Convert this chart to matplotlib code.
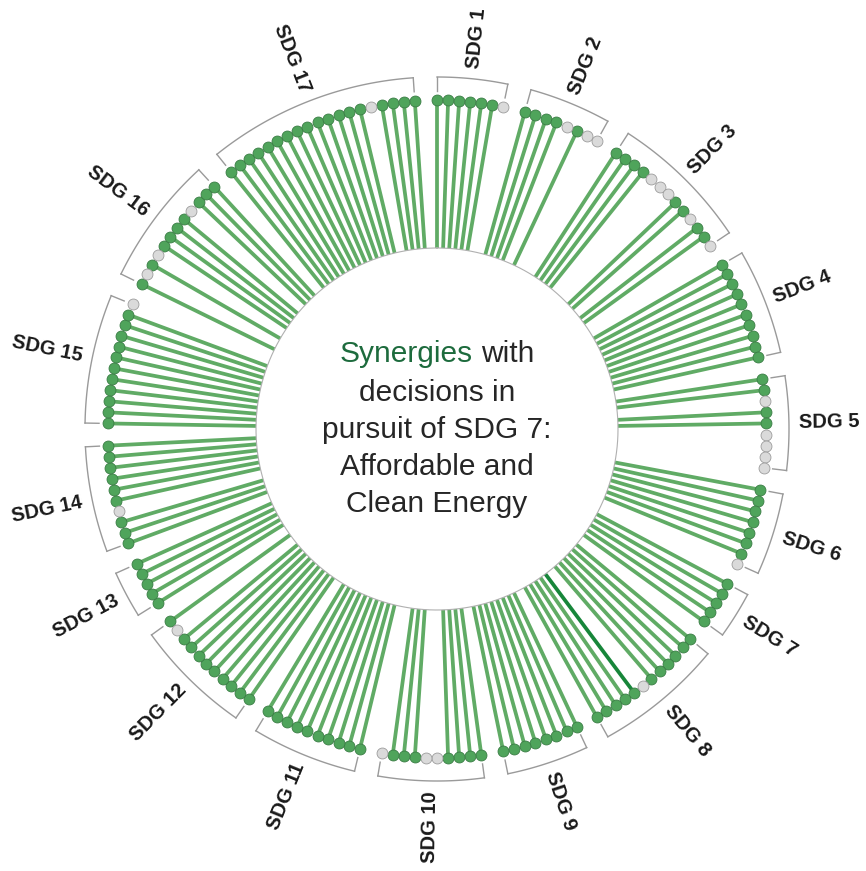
import numpy as np
import matplotlib.pyplot as plt

# SDG groups and their targets, listed clockwise from the top
sdg_labels = ["SDG %d" % i for i in range(1, 18)]

# 1 = synergy with SDG 7 decisions (green), 0 = none (grey)
sdg1 = [1, 1, 1, 1, 1, 1, 0]
sdg2 = [1, 1, 1, 1, 0, 1, 0, 0]
sdg3 = [1, 1, 1, 1, 0, 0, 0, 1, 1, 0, 1, 1, 0]
sdg4 = [1, 1, 1, 1, 1, 1, 1, 1, 1, 1]
sdg5 = [1, 1, 0, 1, 1, 0, 0, 0, 0]
sdg6 = [1, 1, 1, 1, 1, 1, 1, 0]
sdg7 = [1, 1, 1, 1, 1]
sdg8 = [1, 1, 1, 1, 1, 1, 0, 1, 1, 1, 1, 1]
sdg9 = [1, 1, 1, 1, 1, 1, 1, 1]
sdg10 = [1, 1, 1, 1, 0, 0, 1, 1, 1, 0]
sdg11 = [1, 1, 1, 1, 1, 1, 1, 1, 1, 1]
sdg12 = [1, 1, 1, 1, 1, 1, 1, 1, 1, 0, 1]
sdg13 = [1, 1, 1, 1, 1]
sdg14 = [1, 1, 1, 0, 1, 1, 1, 1, 1, 1]
sdg15 = [1, 1, 1, 1, 1, 1, 1, 1, 1, 1, 1, 0]
sdg16 = [1, 0, 1, 0, 1, 1, 1, 1, 0, 1, 1, 1]
sdg17 = [1, 1, 1, 1, 1, 1, 1, 1, 1, 1, 1, 1, 1, 1, 0, 1, 1, 1, 1]
synergy = [sdg1, sdg2, sdg3, sdg4, sdg5, sdg6, sdg7, sdg8, sdg9,
           sdg10, sdg11, sdg12, sdg13, sdg14, sdg15, sdg16, sdg17]

# one target drawn in a darker green (SDG 8, 8th target clockwise)
highlight_group = 7
highlight_target = 7

title_lines = ["decisions in", "pursuit of SDG 7:", "Affordable and", "Clean Energy"]

# styling
green_line = "#60ab65"
dark_line = "#17863a"
green_dot = "#4fa45b"
green_edge = "#3a7d45"
grey_dot = "#dadada"
grey_edge = "#9c9c9c"
bracket_col = "#9a9a9a"

r_inner = 181
r_dot = 329
r_bracket = 352
r_tick = 338
r_label = 362

n_slots = sum(len(g) for g in synergy) + len(synergy)
step = 2 * np.pi / n_slots

W, H = 866, 871
cx, cy, R = 437, 442, 460
fig = plt.figure(figsize=(W / 100, H / 100), dpi=100)
ax = fig.add_axes([(cx - R) / W, (cy - R) / H, 2 * R / W, 2 * R / H], projection="polar")
ax.set_theta_zero_location("N")
ax.set_theta_direction(-1)
ax.set_ylim(0, R)
ax.axis("off")

slot = 0
for gi, (label, flags) in enumerate(zip(sdg_labels, synergy)):
    flags = np.array(flags)
    theta = (slot + np.arange(len(flags))) * step

    # lollipop sticks for synergies
    for ti, (th, f) in enumerate(zip(theta, flags)):
        if f:
            col = dark_line if (gi == highlight_group and ti == highlight_target) else green_line
            ax.plot([th, th], [r_inner, r_dot], color=col, lw=2.7, solid_capstyle="butt", zorder=2)

    ax.scatter(theta[flags == 1], np.full((flags == 1).sum(), r_dot), s=62,
               c=green_dot, edgecolors=green_edge, linewidths=0.6, zorder=3)
    ax.scatter(theta[flags == 0], np.full((flags == 0).sum(), r_dot), s=62,
               c=grey_dot, edgecolors=grey_edge, linewidths=0.6, zorder=3)

    # bracket around the group
    arc = np.linspace(theta[0], theta[-1], 60)
    ax.plot(arc, np.full(arc.size, r_bracket), color=bracket_col, lw=1)
    ax.plot([theta[0], theta[0]], [r_bracket, r_tick], color=bracket_col, lw=1)
    ax.plot([theta[-1], theta[-1]], [r_bracket, r_tick], color=bracket_col, lw=1)

    # label, written along the radius
    mid = theta.mean()
    deg = np.degrees(mid)
    if deg < 180:
        rot, ha = 90 - deg, "left"
    else:
        rot, ha = 270 - deg, "right"
    ax.text(mid, r_label, label, rotation=rot, rotation_mode="anchor", ha=ha, va="center",
            fontsize=14.5, fontweight="bold", family="Liberation Sans", color="#1a1a1a")

    slot += len(flags) + 1

# inner circle outline
circ = np.linspace(0, 2 * np.pi, 400)
ax.plot(circ, np.full(circ.size, r_inner), color="#b0b0b0", lw=0.8, zorder=4)

# centre text
fs = 21.5
line_gap = 37
ax.annotate("Synergies", xy=(0, 0), xytext=(36, 2 * line_gap + 1), textcoords="offset pixels",
            ha="right", va="center", fontsize=fs, family="Liberation Sans", color="#1d6b3d")
ax.annotate("with", xy=(0, 0), xytext=(44, 2 * line_gap + 1), textcoords="offset pixels",
            ha="left", va="center", fontsize=fs, family="Liberation Sans", color="#262626")
for i, txt in enumerate(title_lines):
    ax.annotate(txt, xy=(0, 0), xytext=(0, (1 - i) * line_gap - 1), textcoords="offset pixels",
                ha="center", va="center", fontsize=fs, family="Liberation Sans", color="#262626")

fig.savefig("out.png", dpi=100)
